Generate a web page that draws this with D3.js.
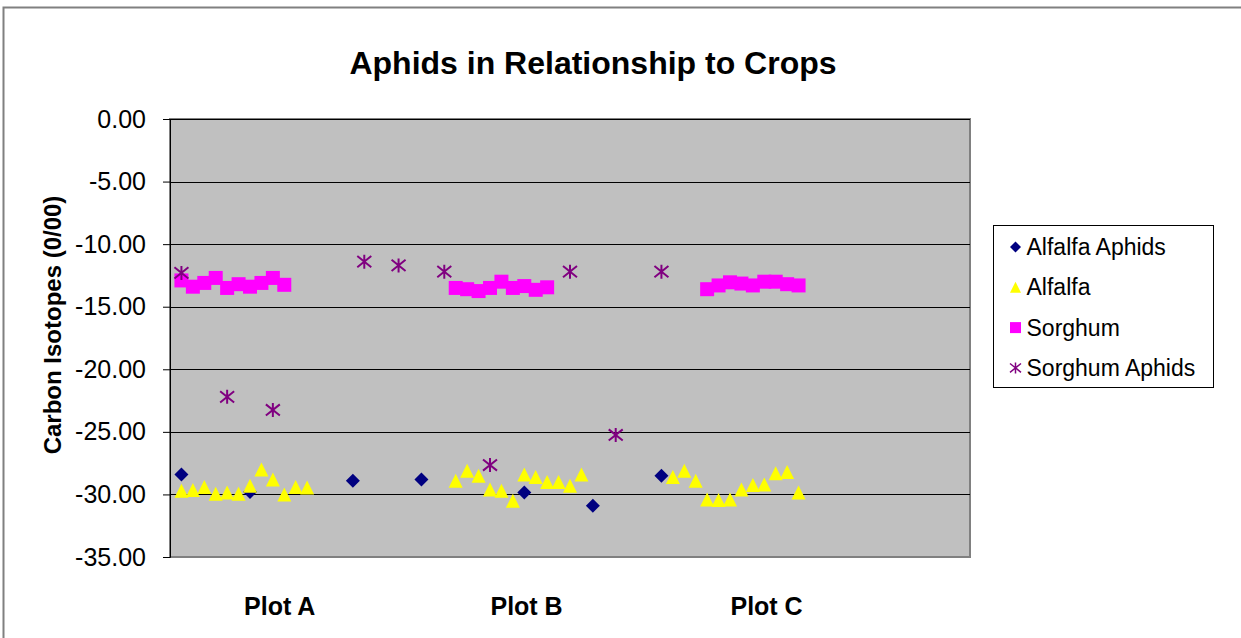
<!DOCTYPE html>
<html>
<head>
<meta charset="utf-8">
<script src="https://cdn.jsdelivr.net/npm/d3@7"></script>
<style>
  body { margin: 0; background: #fff; }
  text { font-family: Arial, "Liberation Sans", sans-serif; }
</style>
</head>
<body>
<div id="chart"></div>
<script>
// Data (x = point index along the hidden category axis)
const seriesNames = ['Alfalfa Aphids', 'Alfalfa', 'Sorghum', 'Sorghum Aphids']

const alfalfaAphidsX = [1, 7, 16, 22, 31, 37, 43]
const alfalfaAphidsY = [-28.4, -29.8, -28.9, -28.8, -29.85, -30.9, -28.5]

const alfalfaX = [1, 2, 3, 4, 5, 6, 7, 8, 9, 10, 11, 12,
                  25, 26, 27, 28, 29, 30, 31, 32, 33, 34, 35, 36,
                  44, 45, 46, 47, 48, 49, 50, 51, 52, 53, 54, 55]
const alfalfaY = [-29.7, -29.65, -29.4, -29.95, -29.85, -29.95, -29.3, -28.0, -28.8, -30.0, -29.4, -29.45,
                  -28.9, -28.1, -28.5, -29.6, -29.7, -30.5, -28.4, -28.6, -29.0, -29.0, -29.3, -28.4,
                  -28.6, -28.1, -28.9, -30.4, -30.45, -30.4, -29.6, -29.25, -29.2, -28.3, -28.2, -29.85]

const sorghumX = [1, 2, 3, 4, 5, 6, 7, 8, 9, 10,
                  25, 26, 27, 28, 29, 30, 31, 32, 33,
                  47, 48, 49, 50, 51, 52, 53, 54, 55]
const sorghumY = [-12.9, -13.4, -13.1, -12.7, -13.5, -13.2, -13.4, -13.1, -12.7, -13.25,
                  -13.5, -13.6, -13.75, -13.5, -13.0, -13.5, -13.35, -13.65, -13.45,
                  -13.6, -13.3, -13.05, -13.15, -13.3, -13.0, -13.0, -13.2, -13.3]

const sorghumAphidsX = [1, 5, 9, 17, 20, 24, 28, 35, 39, 43]
const sorghumAphidsY = [-12.3, -22.2, -23.25, -11.4, -11.7, -12.2, -27.65, -12.2, -25.25, -12.2]

const yTicks = [0, -5, -10, -15, -20, -25, -30, -35]
const plotLabels = ['Plot A', 'Plot B', 'Plot C']
const plotLabelPos = [9.6, 31.2, 52.2]

const W = 1241, H = 638
const m = {left: 170, top: 119, right: 271, bottom: 81}
const w = W - m.left - m.right
const h = H - m.top - m.bottom

const svg = d3.select('#chart')
    .append('svg')
    .attr('width', W)
    .attr('height', H)

// chart frame
svg.append('rect')
    .attr('x', 3.5).attr('y', 7.5)
    .attr('width', 1400).attr('height', 800)
    .attr('fill', '#fff')
    .attr('stroke', '#808080')
    .attr('stroke-width', 2)

const g = svg.append('g')
    .attr('transform', `translate(${m.left}, ${m.top})`)

// Scales
const x = d3.scaleLinear().domain([0, 70]).range([0, w])
const y = d3.scaleLinear().domain([-35, 0]).range([h, 0])

// plot area
g.append('rect')
    .attr('width', w).attr('height', h)
    .attr('fill', '#c0c0c0')
    .attr('stroke', '#808080')
    .attr('stroke-width', 2)

// gridlines
g.selectAll('.grid')
    .data(yTicks.filter(d => d > -35))
    .enter().append('line')
    .attr('x1', 0).attr('x2', w)
    .attr('y1', d => Math.round(y(d)) + 0.5)
    .attr('y2', d => Math.round(y(d)) + 0.5)
    .attr('stroke', '#000')

// y axis
const yAxis = d3.axisLeft(y)
    .tickValues(yTicks)
    .tickSize(7)
    .tickPadding(17)
    .tickFormat(d => d.toFixed(2))

const yAxisCall = g.append('g').call(yAxis)
yAxisCall.select('.domain').attr('stroke', '#000')
yAxisCall.selectAll('text')
    .attr('font-size', '25px')
    .attr('fill', '#000')
    .attr('font-family', 'Arial, "Liberation Sans", sans-serif')

// titles
svg.append('text')
    .attr('x', 593).attr('y', 74)
    .attr('text-anchor', 'middle')
    .attr('font-size', '32px')
    .attr('font-weight', 'bold')
    .text('Aphids in Relationship to Crops')

svg.append('text')
    .attr('transform', 'rotate(-90)')
    .attr('x', -325).attr('y', 61)
    .attr('text-anchor', 'middle')
    .attr('font-size', '24px')
    .attr('font-weight', 'bold')
    .text('Carbon Isotopes (0/00)')

g.selectAll('.plotlabel')
    .data(plotLabels)
    .enter().append('text')
    .attr('x', (d, i) => x(plotLabelPos[i]))
    .attr('y', h + 58)
    .attr('text-anchor', 'middle')
    .attr('font-size', '25px')
    .attr('font-weight', 'bold')
    .text(d => d)

// markers
const S = 7
const shapes = {
    diamond: s => `M0,${-s}L${s},0L0,${s}L${-s},0Z`,
    triangle: s => `M0,${-s}L${s},${s}L${-s},${s}Z`,
    square: s => `M${-s},${-s}H${s}V${s}H${-s}Z`,
    star: s => `M0,${-s}V${s}M${-s},${-s * 0.8}L${s},${s * 0.8}M${-s},${s * 0.8}L${s},${-s * 0.8}`
}
const styles = [
    {shape: 'diamond', fill: '#000080', stroke: 'none'},
    {shape: 'triangle', fill: '#ffff00', stroke: 'none'},
    {shape: 'square', fill: '#ff00ff', stroke: 'none'},
    {shape: 'star', fill: 'none', stroke: '#800080'}
]

const series = [
    alfalfaAphidsX.map((d, i) => ({x: d, y: alfalfaAphidsY[i]})),
    alfalfaX.map((d, i) => ({x: d, y: alfalfaY[i]})),
    sorghumX.map((d, i) => ({x: d, y: sorghumY[i]})),
    sorghumAphidsX.map((d, i) => ({x: d, y: sorghumAphidsY[i]}))
]

series.forEach((data, k) => {
    const st = styles[k]
    g.append('g').selectAll('path')
        .data(data)
        .enter().append('path')
        .attr('transform', d => `translate(${x(d.x)}, ${y(d.y)})`)
        .attr('d', shapes[st.shape](S))
        .attr('fill', st.fill)
        .attr('stroke', st.stroke)
        .attr('stroke-width', 2)
})

// legend
const lg = svg.append('g').attr('transform', 'translate(993.5, 225.5)')
lg.append('rect')
    .attr('width', 220).attr('height', 162)
    .attr('fill', '#fff')
    .attr('stroke', '#000')

seriesNames.forEach((name, i) => {
    const row = lg.append('g').attr('transform', `translate(22, ${21.5 + i * 40.3})`)
    row.append('path')
        .attr('d', shapes[styles[i].shape](5.5))
        .attr('fill', styles[i].fill)
        .attr('stroke', styles[i].stroke)
        .attr('stroke-width', 1.5)
    row.append('text')
        .attr('x', 11)
        .attr('y', 8)
        .attr('font-size', '23px')
        .text(name)
})
</script>
</body>
</html>
